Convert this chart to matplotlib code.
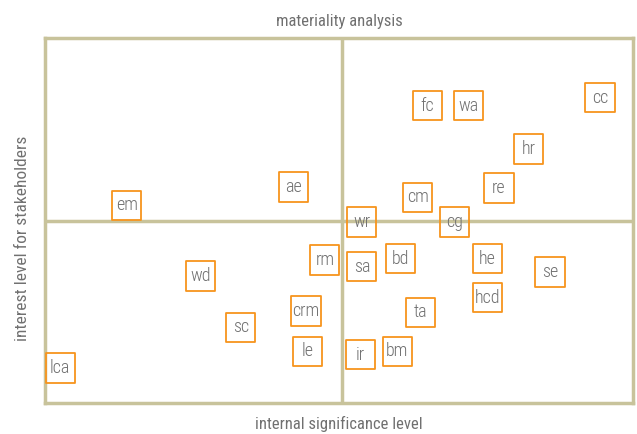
import matplotlib.pyplot as plt

plt.rcParams['font.family'] = ['Roboto Condensed', 'Roboto', 'DejaVu Sans']
plt.rcParams['font.weight'] = 'light'

# topics: label, internal significance, interest for stakeholders (0-100)
labels = ['cc', 'fc', 'wa', 'hr', 'ae', 'em', 'cm', 're', 'wr', 'cg',
          'wd', 'rm', 'sa', 'bd', 'he', 'se', 'hcd', 'crm', 'ta', 'sc',
          'le', 'ir', 'bm', 'lca']
significance = [94.4, 65.0, 72.0, 82.3, 42.2, 13.9, 63.4, 77.2, 53.9, 69.6,
                26.5, 47.6, 53.9, 60.4, 75.2, 85.9, 75.2, 44.4, 63.8, 33.3,
                44.6, 53.7, 59.9, 2.6]
interest = [83.6, 81.4, 81.4, 69.6, 59.2, 54.2, 56.4, 58.9, 49.6, 49.6,
            34.8, 39.2, 37.3, 39.5, 39.5, 35.9, 28.8, 25.2, 24.9, 20.8,
            14.2, 13.2, 14.2, 9.6]

frame_col = '#c8c39b'
box_col = '#f7941d'
text_col = '#707070'

fig = plt.figure(figsize=(6.37, 4.34), dpi=100)
ax = fig.add_axes([0.0706, 0.0714, 0.9231, 0.841])
ax.set_xlim(0, 100)
ax.set_ylim(0, 100)
ax.set_xticks([])
ax.set_yticks([])
for s in ax.spines.values():
    s.set_color(frame_col)
    s.set_linewidth(2.5)

ax.axvline(50.5, color=frame_col, lw=2.5, zorder=1)
ax.axhline(50, color=frame_col, lw=2.5, zorder=1)

# fixed-size square frames around each label
ax.scatter(significance, interest, marker='s', s=21 ** 2, facecolors='none',
           edgecolors=box_col, linewidths=1.3, zorder=3)
for lab, x, y in zip(labels, significance, interest):
    ax.text(x, y, lab, ha='center', va='center', fontsize=13, color=text_col,
            zorder=4)

ax.set_title('materiality analysis', fontsize=12, color=text_col, pad=9)
ax.set_xlabel('internal significance level', fontsize=12, color=text_col, labelpad=9)
ax.set_ylabel('interest level for stakeholders', fontsize=12.5, color=text_col)
ax.yaxis.set_label_coords(-0.025, 0.452)

fig.savefig('out.png', dpi=100)
